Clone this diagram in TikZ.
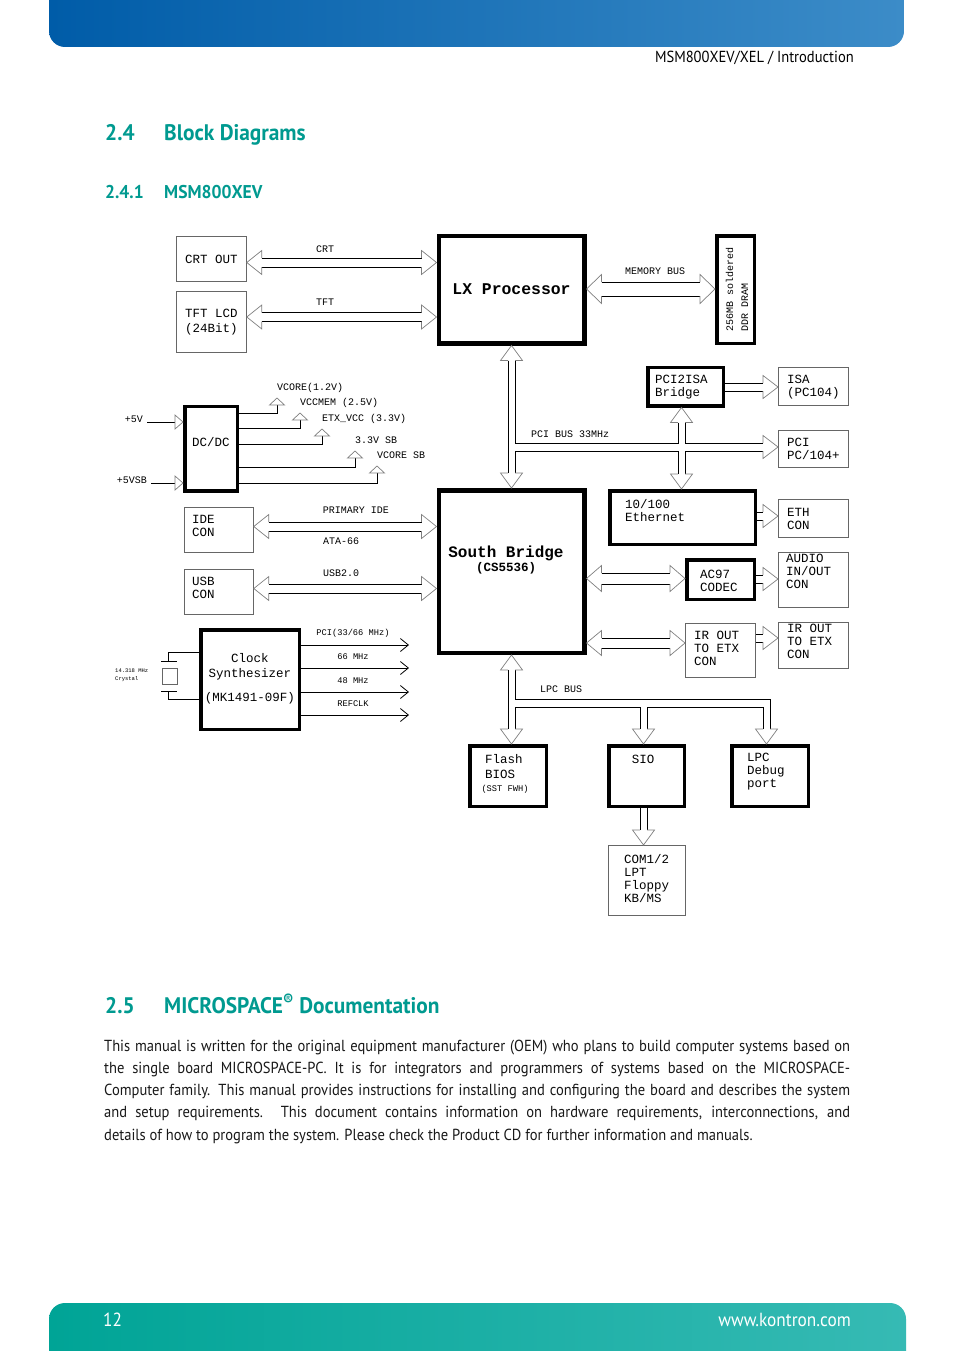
\documentclass[tikz,border=0pt]{standalone}
\usepackage{fontspec}
\setmainfont[FakeStretch=0.91]{PT Sans}
\newfontfamily\condsans[FakeStretch=0.95]{PT Sans}
\newfontfamily\courfont{Liberation Mono}
\usetikzlibrary{calc,arrows.meta}
\definecolor{kteal}{RGB}{0,154,144}
\definecolor{headA}{RGB}{0,92,168}
\definecolor{headB}{RGB}{60,140,200}
\definecolor{footA}{RGB}{0,164,150}
\definecolor{footB}{RGB}{54,186,180}
\newcommand\boxfont{\courfont\fontsize{12.5}{13}\selectfont}
\newcommand\busfont{\courfont\fontsize{10}{12}\selectfont}
\newcommand\clkfont{\courfont\fontsize{8.7}{10}\selectfont}
% hollow bus arrow head, tip at #2, pointing to #3
\newcommand\bushead[3][4.5]{%
  \draw[bushd,shift={(#2)},rotate=#3] (-15,#1) -- (-15,#1+7.5) -- (0,0)
    -- (-15,-#1-7.5) -- (-15,-#1);}
% two way bus
\newcommand\dbus[4][4.5]{%
  \draw[shaft] let \p1=(#2), \p2=(#3) in
    (\x1+15pt,#4pt+#1pt) -- (\x2-15pt,#4pt+#1pt)
    (\x1+15pt,#4pt-#1pt) -- (\x2-15pt,#4pt-#1pt);
  \bushead[#1]{#2 |- 0,#4}{180}
  \bushead[#1]{#3 |- 0,#4}{0}}
% one way bus
\newcommand\sbus[4][4]{%
  \draw[shaft] let \p1=(#2), \p2=(#3) in
    (\x1,#4pt+#1pt) -- (\x2-15pt,#4pt+#1pt)
    (\x1,#4pt-#1pt) -- (\x2-15pt,#4pt-#1pt);
  \bushead[#1]{#3 |- 0,#4}{0}}
\tikzset{
  thinbox/.style={draw=black!60,line width=0.8pt,anchor=north west,inner sep=0pt},
  thickbox/.style={draw,line width=3.5pt,anchor=north west,inner sep=0pt},
  boxtxt/.style={font=\boxfont,inner sep=0pt,align=left},
  buslbl/.style={font=\busfont,inner sep=0pt},
  shaft/.style={line width=0.8pt},
  bushd/.style={draw=black!50,line width=0.7pt},
  clkout/.style={line width=0.8pt,-{Straight Barb[length=8pt,width=13pt]}},
  sechead/.style={font=\condsans\bfseries\fontsize{22.5}{26}\selectfont,text=kteal,inner sep=0pt,anchor=base west},
  subhead/.style={font=\condsans\bfseries\fontsize{18.5}{21}\selectfont,text=kteal,inner sep=0pt,anchor=base west},
  body/.style={font=\fontsize{16}{22}\selectfont,text=black!90,inner sep=0pt,anchor=base west},
}
\begin{document}
\begin{tikzpicture}[x=1pt,y=1pt]
  \useasboundingbox (0,0) rectangle (954,-1351);
  \fill[white] (0,0) rectangle (954,-1351);
  %
  % page head and foot
  \shade[left color=headA,right color=headB] (49,0) -- (49,-31)
    arc[start angle=180,end angle=270,radius=16] -- (888,-47)
    arc[start angle=270,end angle=360,radius=16] -- (904,0) -- cycle;
  \shade[left color=footA,right color=footB] (49,-1351) -- (49,-1319)
    arc[start angle=180,end angle=90,radius=16] -- (890,-1303)
    arc[start angle=90,end angle=0,radius=16] -- (906,-1351) -- cycle;
  \node[anchor=base east,inner sep=0pt,font=\fontsize{16}{18}\selectfont] (runhead) at (854,-63) {MSM800XEV/XEL / Introduction};
  \node[anchor=base west,inner sep=0pt,text=white,font=\fontsize{19}{21}\selectfont] (pageno) at (103,-1326) {12};
  \node[anchor=base east,inner sep=0pt,text=white,font=\fontsize{19}{21}\selectfont] (website) at (851,-1326) {www.kontron.com};
  %
  \node[sechead] (sec24) at (105,-141) {2.4};
  \node[sechead] (sec24t) at (164,-141) {Block Diagrams};
  \node[subhead] (sec241) at (105,-198) {2.4.1};
  \node[subhead] (sec241t) at (164,-198) {MSM800XEV};
  \node[sechead] (sec25) at (105,-1013) {2.5};
  \node[sechead] (sec25t) at (164,-1013) {MICROSPACE\textsuperscript{\textregistered} Documentation};
  %
  % blocks
  \node[thinbox,minimum width=70pt,minimum height=45pt,font=\boxfont] (crt) at (176,-236) {CRT OUT};
  \node[thinbox,minimum width=70pt,minimum height=61pt,font=\boxfont,align=center] (tft) at (176,-291) {TFT LCD\\[2pt](24Bit)};
  \node[thickbox,line width=4.5pt,minimum width=145.5pt,minimum height=107.5pt,font=\courfont\bfseries\fontsize{16.4}{18}\selectfont] (lx) at (436.5,-233.5) {LX Processor};
  \node[thickbox,minimum width=37.5pt,minimum height=107.5pt] (dram) at (715,-234) {};
  \node[buslbl,rotate=90,align=left,font=\courfont\fontsize{10}{15}\selectfont] (dramT) at (737,-289) {256MB soldered\\DDR DRAM};
  \node[thickbox,minimum width=52.5pt,minimum height=84.5pt] (dcdc) at (183,-404.5) {};
  \node[thickbox,minimum width=75.5pt,minimum height=38.5pt] (pciisa) at (646,-365.5) {};
  \node[thinbox,minimum width=70pt,minimum height=38pt] (isa) at (778,-367) {};
  \node[thinbox,minimum width=70pt,minimum height=37pt] (pci) at (778,-430) {};
  \node[thickbox,minimum width=145.5pt,minimum height=53.5pt] (eth) at (608,-489) {};
  \node[thinbox,minimum width=70pt,minimum height=38pt] (ethcon) at (778,-499) {};
  \node[thickbox,line width=4.5pt,minimum width=145.5pt,minimum height=162.5pt] (sb) at (436.5,-488) {};
  \node[thickbox,minimum width=67.5pt,minimum height=39.5pt] (ac97) at (685,-558) {};
  \node[thinbox,minimum width=70pt,minimum height=55pt] (audio) at (778,-552) {};
  \node[thinbox,minimum width=70pt,minimum height=54pt] (irout) at (685,-623) {};
  \node[thinbox,minimum width=70pt,minimum height=46pt] (ircon) at (778,-622) {};
  \node[thinbox,minimum width=69pt,minimum height=45pt] (ide) at (184,-507) {};
  \node[thinbox,minimum width=69pt,minimum height=45pt] (usb) at (184,-569) {};
  \node[thickbox,minimum width=98.5pt,minimum height=99.5pt] (clock) at (199,-628) {};
  \node[thinbox,minimum width=15pt,minimum height=16pt] (xtal) at (162,-668) {};
  \node[thickbox,minimum width=76.5pt,minimum height=60.5pt] (flash) at (468,-744) {};
  \node[thickbox,minimum width=75.5pt,minimum height=60.5pt] (sio) at (607,-744) {};
  \node[thickbox,minimum width=76.5pt,minimum height=60.5pt] (lpcdbg) at (730,-744) {};
  \node[thinbox,minimum width=77pt,minimum height=70pt] (com) at (608,-845) {};
  %
  % block texts
  \node[boxtxt] (dcdcT) at (211,-442) {DC/DC};
  \node[boxtxt,anchor=west] (pciisaT) at (655,-387) {PCI2ISA\\Bridge};
  \node[boxtxt,anchor=west] (isaT) at (787,-387) {ISA\\(PC104)};
  \node[boxtxt,anchor=west] (pciT) at (787,-448.5) {PCI\\PC/104+};
  \node[boxtxt,anchor=west] (ethT) at (625,-511) {10/100\\Ethernet};
  \node[boxtxt,anchor=west] (ethconT) at (787,-518.5) {ETH\\CON};
  \node[align=center,inner sep=0pt,font=\courfont\bfseries\fontsize{16}{14}\selectfont] (sbT) at (506,-560) {South Bridge\\{\fontsize{12.5}{14}\selectfont(CS5536)}};
  \node[boxtxt,anchor=west] (ac97T) at (700,-580.5) {AC97\\CODEC};
  \node[boxtxt,anchor=west] (audioT) at (786,-571) {AUDIO\\IN/OUT\\CON};
  \node[boxtxt,anchor=west] (iroutT) at (694,-648.5) {IR OUT\\TO ETX\\CON};
  \node[boxtxt,anchor=west] (irconT) at (787,-641) {IR OUT\\TO ETX\\CON};
  \node[boxtxt,anchor=west] (ideT) at (192,-526) {IDE\\CON};
  \node[boxtxt,anchor=west] (usbT) at (192,-587.5) {USB\\CON};
  \node[boxtxt,align=center] (clockT) at (250,-678.5) {Clock\\[2pt]Synthesizer\\[11pt](MK1491-09F)};
  \node[boxtxt,anchor=west] (flashT) at (485,-766.5) {Flash\\[2pt]BIOS};
  \node[buslbl,font=\clkfont] (flashS) at (505,-789) {(SST FWH)};
  \node[boxtxt] (sioT) at (643,-759) {SIO};
  \node[boxtxt,anchor=west] (lpcdbgT) at (747,-772) {LPC\\Debug\\port};
  \node[boxtxt,anchor=west] (comT) at (624,-878.5) {COM1/2\\LPT\\Floppy\\KB/MS};
  %
  % bus labels
  \node[buslbl] (crtL) at (325,-249) {CRT};
  \node[buslbl] (tftL) at (325,-302) {TFT};
  \node[buslbl] (memL) at (655,-271) {MEMORY BUS};
  \node[buslbl] (ideL) at (356,-510) {PRIMARY IDE};
  \node[buslbl] (ataL) at (341,-541) {ATA-66};
  \node[buslbl] (usbL) at (341,-573) {USB2.0};
  \node[buslbl,anchor=west] (pcibusL) at (531,-434) {PCI BUS 33MHz};
  \node[buslbl,anchor=west] (lpcbusL) at (540,-689) {LPC BUS};
  %
  % buses
  \dbus{crt.east}{lx.west}{-262.5}
  \dbus{tft.east}{lx.west}{-317}
  \dbus[7]{lx.east}{dram.west}{-289}
  \dbus{ide.east}{sb.west}{-526.5}
  \dbus{usb.east}{sb.west}{-588.5}
  \dbus[5.5]{sb.east}{ac97.west}{-578.5}
  \dbus[5]{sb.east}{irout.west}{-643}
  \sbus{pciisa.east}{isa.west}{-387}
  \sbus{eth.east}{ethcon.west}{-516}
  \sbus{ac97.east}{audio.west}{-579}
  \sbus{irout.east}{ircon.west}{-638}
  %
  % PCI bus
  \coordinate (pcibr) at (681.5,-447);
  \draw[shaft] ($(lx.south)+(-3.5,-15)$) -- ($(sb.north)+(-3.5,15)$);
  \draw[shaft] ($(lx.south)+(3.5,-15)$) |- ($(pcibr)+(-3.5,4)$) -- ($(pcibr |- pciisa.south)+(-3.5,-15)$);
  \draw[shaft] ($(pcibr |- pciisa.south)+(3.5,-15)$) |- ($(pci.west |- pcibr)+(-15,4)$);
  \draw[shaft] ($(sb.north)+(3.5,15)$) |- ($(pcibr)+(-3.5,-4)$) -- ($(pcibr |- eth.north)+(-3.5,15)$);
  \draw[shaft] ($(pcibr |- eth.north)+(3.5,15)$) |- ($(pci.west |- pcibr)+(-15,-4)$);
  \bushead[3.5]{lx.south}{90}
  \bushead[3.5]{sb.north}{-90}
  \bushead[3.5]{pcibr |- pciisa.south}{90}
  \bushead[3.5]{pcibr |- eth.north}{-90}
  \bushead[4]{pci.west |- pcibr}{0}
  %
  % LPC bus
  \coordinate (siotap) at (643.5,-703);
  \coordinate (dbgtap) at (766.5,-703);
  \draw[shaft] ($(sb.south)+(-3.5,-15)$) -- ($(sb.south |- flash.north)+(-3.5,15)$);
  \draw[shaft] ($(sb.south)+(3.5,-15)$) |- ($(dbgtap)+(3.5,4)$) -- ($(dbgtap |- lpcdbg.north)+(3.5,15)$);
  \draw[shaft] ($(sb.south |- flash.north)+(3.5,15)$) |- ($(siotap)+(-3.5,-4)$) -- ($(siotap |- sio.north)+(-3.5,15)$);
  \draw[shaft] ($(siotap |- sio.north)+(3.5,15)$) |- ($(dbgtap)+(-3.5,-4)$) -- ($(dbgtap |- lpcdbg.north)+(-3.5,15)$);
  \draw[shaft] ($(siotap |- sio.south)+(-3.5,0)$) -- ($(siotap |- com.north)+(-3.5,15)$)
               ($(siotap |- sio.south)+(3.5,0)$) -- ($(siotap |- com.north)+(3.5,15)$);
  \bushead[3.5]{sb.south}{90}
  \bushead[3.5]{sb.south |- flash.north}{-90}
  \bushead[3.5]{siotap |- sio.north}{-90}
  \bushead[3.5]{dbgtap |- lpcdbg.north}{-90}
  \bushead[3.5]{siotap |- com.north}{-90}
  %
  % power
  \node[buslbl,anchor=base east] (p5v) at (143,-422) {+5V};
  \node[buslbl,anchor=base east] (p5vsb) at (147,-483) {+5VSB};
  \foreach \src in {p5v,p5vsb}{
    \draw ($(\src.base east)+(4,0)$) -- ($(dcdc.west |- \src.base east)+(-8,0)$);
    \draw[bushd] ($(dcdc.west |- \src.base east)+(-8,7)$) -- (dcdc.west |- \src.base east)
      -- ($(dcdc.west |- \src.base east)+(-8,-7)$) -- cycle;}
  \foreach \yl/\xa/\ya/\txt [count=\i] in {413/277/398/{VCORE(1.2V)},428/300/413/{VCCMEM (2.5V)},444/322/429/{ETX\_VCC (3.3V)},467/355/451/{3.3V SB},483/377/466/{VCORE SB}}{
    \draw (dcdc.east |- 0,-\yl) -| (\xa,-\ya-7);
    \draw[bushd] (\xa-7.5,-\ya-7) -- (\xa,-\ya) -- (\xa+7.5,-\ya-7) -- cycle;
    \node[buslbl,anchor=west] (vout\i) at (\xa,-\ya+10.5) {\txt};}
  %
  % crystal
  \draw (clock.west |- 0,-652) -| (168,-661);
  \draw (clock.west |- 0,-699) -| (168,-691);
  \draw (161,-661) -- (177,-661) (161,-691) -- (177,-691);
  \node[anchor=west,inner sep=0pt,align=left,font=\courfont\fontsize{5.5}{8}\selectfont] (xtalT) at (115,-675) {14.318 MHz\\Crystal};
  % clock outputs
  \foreach \yo/\txt [count=\i] in {645/{PCI(33/66 MHz)},668/{66 MHz},692/{48 MHz},715/{REFCLK}}{
    \draw[clkout] (clock.east |- 0,-\yo) -- (409,-\yo);
    \node[buslbl,font=\clkfont] (clk\i) at (353,-\yo+11.5) {\txt};}
  %
  % text
  \node[body] (para1) at (104,-1051) {\makebox[746pt][s]{This manual is written for the original equipment manufacturer (OEM) who plans to build computer systems based on}};
  \node[body] (para2) at (104,-1073) {\makebox[746pt][s]{the single board MICROSPACE-PC. It is for integrators and programmers of systems based on the MICROSPACE-}};
  \node[body] (para3) at (104,-1095.5) {\makebox[746pt][s]{Computer family. This manual provides instructions for installing and configuring the board and describes the system}};
  \node[body] (para4) at (104,-1117.5) {\makebox[746pt][s]{and setup requirements. This document contains information on hardware requirements, interconnections, and}};
  \node[body] (para5) at (104,-1140) {details of how to program the system. Please check the Product CD for further information and manuals.};
\end{tikzpicture}
\end{document}
